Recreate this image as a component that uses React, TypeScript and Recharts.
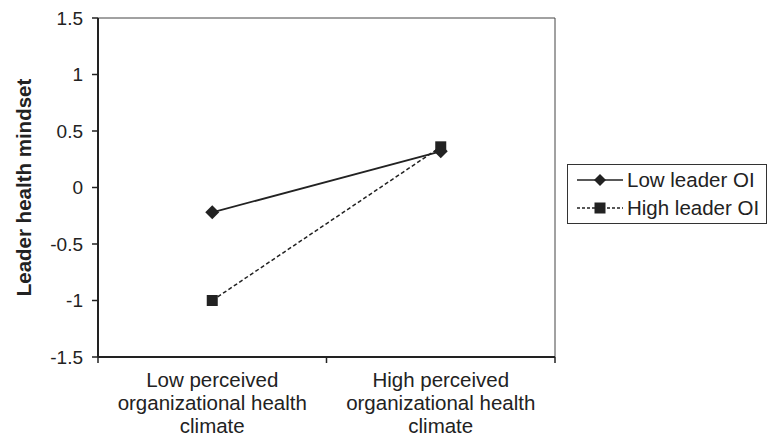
import React from 'react';
import { LineChart, Line, XAxis, YAxis, ReferenceLine, Legend } from 'recharts';

document.body.style.margin = '0';

const categoryLines = [
  ['Low perceived', 'organizational health', 'climate'],
  ['High perceived', 'organizational health', 'climate'],
];
const lowLeaderOI = [-0.22, 0.32];
const highLeaderOI = [-1.0, 0.36];
const yTicks = [-1.5, -1, -0.5, 0, 0.5, 1, 1.5];
const xTicks = [0, 0.5, 1, 1.5, 2];
const seriesOrder = ['low', 'high'];

const data = categoryLines.map((_, i) => ({
  x: i + 0.5,
  low: lowLeaderOI[i],
  high: highLeaderOI[i],
}));

const FONT = '"Liberation Sans", Arial, sans-serif';
const INK = '#222';

const Diamond = ({ cx, cy }: any) => (
  <path d={`M${cx},${cy - 7} L${cx + 7},${cy} L${cx},${cy + 7} L${cx - 7},${cy} Z`} fill={INK} />
);

const Square = ({ cx, cy }: any) => (
  <rect x={cx - 5.5} y={cy - 5.5} width={11} height={11} fill={INK} />
);

const XTick = ({ x, y, payload }: any) => {
  const v = payload.value;
  if (Number.isInteger(v)) {
    return <line x1={x} x2={x} y1={y} y2={y + 6} stroke={INK} strokeWidth={1.5} />;
  }
  const lines = categoryLines[Math.floor(v)];
  return (
    <text x={x} y={y} textAnchor="middle" fontSize={20.5} fill={INK} fontFamily={FONT}>
      {lines.map((l, i) => (
        <tspan key={i} x={x} dy={i === 0 ? 30 : 23}>{l}</tspan>
      ))}
    </text>
  );
};

const LegendBox = ({ payload }: any) => {
  const items = [...(payload || [])].sort(
    (a: any, b: any) => seriesOrder.indexOf(a.dataKey) - seriesOrder.indexOf(b.dataKey)
  );
  return (
    <div style={{ border: '1px solid #333', background: '#fff', padding: '1px 0', fontFamily: FONT }}>
      {items.map((entry: any) => (
        <div key={entry.value} style={{ display: 'flex', alignItems: 'center', height: 28, fontSize: 20.5, color: INK }}>
          <svg width={46} height={14} style={{ marginLeft: 9, marginRight: 4 }}>
            <line x1={0} x2={46} y1={7} y2={7} stroke={INK} strokeWidth={1.5}
              strokeDasharray={entry.dataKey === 'high' ? '3 2' : undefined} />
            {entry.dataKey === 'high'
              ? <rect x={17.5} y={1.5} width={11} height={11} fill={INK} />
              : <path d="M23,1 L29,7 L23,13 L17,7 Z" fill={INK} />}
          </svg>
          <span>{entry.value}</span>
        </div>
      ))}
    </div>
  );
};

export default function App() {
  return (
    <div style={{ width: 776, height: 437, background: '#fff', fontFamily: FONT }}>
      <LineChart width={776} height={437} data={data} margin={{ top: 18, right: 221, bottom: 0, left: 0 }}>
        <XAxis
          dataKey="x"
          type="number"
          domain={[0, 2]}
          ticks={xTicks}
          interval={0}
          tickLine={false}
          tickSize={0}
          tickMargin={0}
          tick={<XTick />}
          axisLine={{ stroke: INK, strokeWidth: 2 }}
          height={80}
        />
        <YAxis
          type="number"
          domain={[-1.5, 1.5]}
          ticks={yTicks}
          interval={0}
          width={98}
          tickSize={6}
          tickMargin={9}
          tickLine={{ stroke: INK, strokeWidth: 1.5 }}
          axisLine={{ stroke: INK, strokeWidth: 2 }}
          tick={{ fontSize: 19, fill: INK, fontFamily: FONT }}
          label={{
            value: 'Leader health mindset',
            angle: -90,
            position: 'insideLeft',
            offset: 24,
            style: { fontSize: 20.5, fontWeight: 'bold', fill: INK, fontFamily: FONT, textAnchor: 'middle' },
          }}
        />
        <ReferenceLine y={1.5} stroke="#444" strokeWidth={1} />
        <ReferenceLine x={2} stroke="#444" strokeWidth={1} />
        <Legend
          layout="horizontal"
          verticalAlign="middle"
          align="center"
          content={<LegendBox />}
          wrapperStyle={{ position: 'absolute', left: 567, top: 164, width: 200 }}
        />
        <Line
          dataKey="low"
          name="Low leader OI"
          stroke={INK}
          strokeWidth={1.8}
          dot={<Diamond />}
          isAnimationActive={false}
        />
        <Line
          dataKey="high"
          name="High leader OI"
          stroke={INK}
          strokeWidth={1.5}
          strokeDasharray="4 2.5"
          dot={<Square />}
          isAnimationActive={false}
        />
      </LineChart>
    </div>
  );
}
